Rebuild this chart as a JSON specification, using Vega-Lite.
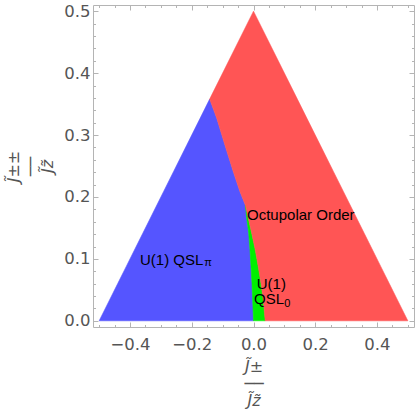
{
  "$schema": "https://vega.github.io/schema/vega-lite/v6.json",
  "width": 321,
  "height": 322,
  "autosize": "none",
  "padding": {"left": 93, "top": 5, "right": 1, "bottom": 88},
  "background": "white",
  "config": {
    "view": {"stroke": null},
    "axis": {
      "grid": false,
      "labelFont": "DejaVu Sans",
      "labelFontSize": 16.5,
      "labelColor": "#555555",
      "domainColor": "#b4b4b4",
      "tickColor": "#b4b4b4",
      "titleFont": "DejaVu Sans",
      "titleColor": "#555555",
      "titleFontWeight": "normal"
    }
  },
  "datasets": {
    "regions": [
      {"region": "blue", "y": 0, "xl": -0.5, "xr": 0},
      {"region": "blue", "y": 0.0336, "xl": -0.4664, "xr": -0.0026},
      {"region": "blue", "y": 0.0605, "xl": -0.4395, "xr": -0.0049},
      {"region": "blue", "y": 0.0874, "xl": -0.4126, "xr": -0.0081},
      {"region": "blue", "y": 0.1143, "xl": -0.3857, "xr": -0.0113},
      {"region": "blue", "y": 0.1413, "xl": -0.3587, "xr": -0.0155},
      {"region": "blue", "y": 0.1628, "xl": -0.3372, "xr": -0.0211},
      {"region": "blue", "y": 0.187, "xl": -0.313, "xr": -0.0265},
      {"region": "blue", "y": 0.2085, "xl": -0.2915, "xr": -0.0437},
      {"region": "blue", "y": 0.2408, "xl": -0.2592, "xr": -0.0654},
      {"region": "blue", "y": 0.2834, "xl": -0.2166, "xr": -0.0923},
      {"region": "blue", "y": 0.327, "xl": -0.173, "xr": -0.119},
      {"region": "blue", "y": 0.358, "xl": -0.142, "xr": -0.142},
      {"region": "green", "y": 0, "xl": 0, "xr": 0.038},
      {"region": "green", "y": 0.0336, "xl": -0.0026, "xr": 0.0317},
      {"region": "green", "y": 0.0605, "xl": -0.0049, "xr": 0.0243},
      {"region": "green", "y": 0.0874, "xl": -0.0081, "xr": 0.0155},
      {"region": "green", "y": 0.1143, "xl": -0.0113, "xr": 0.0058},
      {"region": "green", "y": 0.1413, "xl": -0.0155, "xr": -0.0058},
      {"region": "green", "y": 0.1628, "xl": -0.0211, "xr": -0.0155},
      {"region": "green", "y": 0.187, "xl": -0.0265, "xr": -0.0265},
      {"region": "red", "y": 0, "xl": 0.038, "xr": 0.5},
      {"region": "red", "y": 0.0336, "xl": 0.0317, "xr": 0.4664},
      {"region": "red", "y": 0.0605, "xl": 0.0243, "xr": 0.4395},
      {"region": "red", "y": 0.0874, "xl": 0.0155, "xr": 0.4126},
      {"region": "red", "y": 0.1143, "xl": 0.0058, "xr": 0.3857},
      {"region": "red", "y": 0.1413, "xl": -0.0058, "xr": 0.3587},
      {"region": "red", "y": 0.1628, "xl": -0.0155, "xr": 0.3372},
      {"region": "red", "y": 0.187, "xl": -0.0265, "xr": 0.313},
      {"region": "red", "y": 0.2085, "xl": -0.0437, "xr": 0.2915},
      {"region": "red", "y": 0.2408, "xl": -0.0654, "xr": 0.2592},
      {"region": "red", "y": 0.2834, "xl": -0.0923, "xr": 0.2166},
      {"region": "red", "y": 0.327, "xl": -0.119, "xr": 0.173},
      {"region": "red", "y": 0.358, "xl": -0.142, "xr": 0.142},
      {"region": "red", "y": 0.5, "xl": 0, "xr": 0}
    ],
    "labels": [
      {"label": "Octupolar Order", "x": -0.021, "y": 0.163},
      {"label": "U(1)", "x": 0.0104, "y": 0.0515},
      {"label": "QSL", "x": 0.0016, "y": 0.0266},
      {"label": "U(1) QSL", "x": -0.3677, "y": 0.0901}
    ],
    "subs": [
      {"label": "0", "x": 0.1, "y": 0.022},
      {"label": "π", "x": -0.1595, "y": 0.0885}
    ]
  },
  "layer": [
    {
      "data": {"name": "regions"},
      "transform": [{"filter": "datum.region === 'blue'"}],
      "mark": {"type": "area", "orient": "horizontal", "color": "#5555ff", "stroke": "#5555ff", "strokeWidth": 0.6},
      "encoding": {
        "y": {"field": "y", "type": "quantitative", "scale": {"domain": [-0.01, 0.51], "nice": false, "zero": false},
          "axis": {"orient": "left", "values": [0, 0.1, 0.2, 0.3, 0.4, 0.5], "format": ".1f", "tickSize": -5, "labelPadding": 8,
            "title": ["J̃±±", "──", "J̃z̃"], "titleFontStyle": "italic", "titleFontSize": 16, "titleLineHeight": 17, "titlePadding": 8}},
        "x": {"field": "xl", "type": "quantitative", "scale": {"domain": [-0.52, 0.52], "nice": false, "zero": false},
          "axis": {"orient": "bottom", "values": [-0.4, -0.2, 0, 0.2, 0.4], "format": ".1f", "tickSize": -5, "labelPadding": 14,
            "title": ["J̃±", "──", "J̃z̃"], "titleFontStyle": "italic", "titleFontSize": 16, "titleLineHeight": 17, "titlePadding": 6}},
        "x2": {"field": "xr"}
      }
    },
    {
      "data": {"name": "regions"},
      "transform": [{"filter": "datum.region === 'green'"}],
      "mark": {"type": "area", "orient": "horizontal", "color": "#00f000", "stroke": "#00f000", "strokeWidth": 0.6},
      "encoding": {
        "y": {"field": "y", "type": "quantitative", "scale": {"domain": [-0.01, 0.51], "nice": false, "zero": false},
          "axis": {"orient": "left", "values": [0.02, 0.04, 0.06, 0.08, 0.12, 0.14, 0.16, 0.18, 0.22, 0.24, 0.26, 0.28, 0.32, 0.34, 0.36, 0.38, 0.42, 0.44, 0.46, 0.48], "tickSize": -2.5, "labels": false, "domain": false, "title": null}},
        "x": {"field": "xl", "type": "quantitative", "scale": {"domain": [-0.52, 0.52], "nice": false, "zero": false},
          "axis": {"orient": "bottom", "values": [-0.5, -0.45, -0.35, -0.3, -0.25, -0.15, -0.1, -0.05, 0.05, 0.1, 0.15, 0.25, 0.3, 0.35, 0.45, 0.5], "tickSize": -2.5, "labels": false, "domain": false, "title": null}},
        "x2": {"field": "xr"}
      }
    },
    {
      "data": {"name": "regions"},
      "transform": [{"filter": "datum.region === 'red'"}],
      "mark": {"type": "area", "orient": "horizontal", "color": "#ff5555", "stroke": "#ff5555", "strokeWidth": 0.6},
      "encoding": {
        "y": {"field": "y", "type": "quantitative", "scale": {"domain": [-0.01, 0.51], "nice": false, "zero": false},
          "axis": {"orient": "right", "values": [0, 0.1, 0.2, 0.3, 0.4, 0.5], "tickSize": -5, "labels": false, "title": null}},
        "x": {"field": "xl", "type": "quantitative", "scale": {"domain": [-0.52, 0.52], "nice": false, "zero": false},
          "axis": {"orient": "top", "values": [-0.4, -0.2, 0, 0.2, 0.4], "tickSize": -5, "labels": false, "title": null}},
        "x2": {"field": "xr"}
      }
    },
    {
      "data": {"name": "labels"},
      "mark": {"type": "text", "align": "left", "baseline": "alphabetic", "font": "Liberation Sans", "fontSize": 15, "color": "black"},
      "encoding": {
        "y": {"field": "y", "type": "quantitative", "scale": {"domain": [-0.01, 0.51], "nice": false, "zero": false},
          "axis": {"orient": "right", "values": [0.02, 0.04, 0.06, 0.08, 0.12, 0.14, 0.16, 0.18, 0.22, 0.24, 0.26, 0.28, 0.32, 0.34, 0.36, 0.38, 0.42, 0.44, 0.46, 0.48], "tickSize": -2.5, "labels": false, "domain": false, "title": null}},
        "x": {"field": "x", "type": "quantitative", "scale": {"domain": [-0.52, 0.52], "nice": false, "zero": false},
          "axis": {"orient": "top", "values": [-0.5, -0.45, -0.35, -0.3, -0.25, -0.15, -0.1, -0.05, 0.05, 0.1, 0.15, 0.25, 0.3, 0.35, 0.45, 0.5], "tickSize": -2.5, "labels": false, "domain": false, "title": null}},
        "text": {"field": "label"}
      }
    },
    {
      "data": {"name": "subs"},
      "mark": {"type": "text", "align": "left", "baseline": "alphabetic", "font": "Liberation Sans", "fontSize": 11, "color": "black"},
      "encoding": {
        "y": {"field": "y", "type": "quantitative", "scale": {"domain": [-0.01, 0.51], "nice": false, "zero": false}, "axis": null},
        "x": {"field": "x", "type": "quantitative", "scale": {"domain": [-0.52, 0.52], "nice": false, "zero": false}, "axis": null},
        "text": {"field": "label"}
      }
    }
  ],
  "resolve": {"axis": {"x": "independent", "y": "independent"}}
}
